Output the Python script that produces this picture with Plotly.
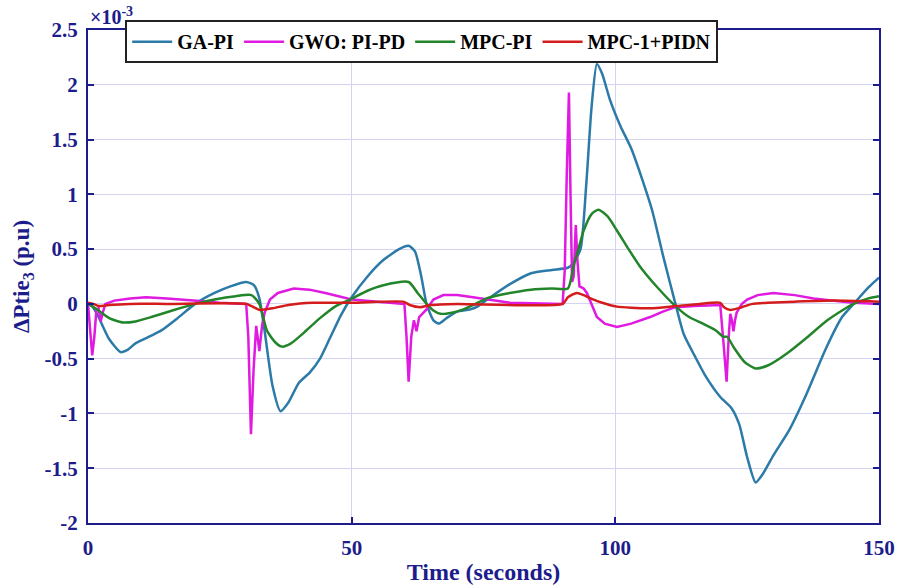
import plotly.graph_objects as go

# ---- data (values in units of 1e-3 p.u.) ----
ga_t = [0, 0.8, 2, 4, 6.2, 7.5, 9, 12, 14, 17, 20.3, 24, 27, 30, 31.5, 32.5, 33.5, 35, 36.5, 38, 40, 42, 44, 46, 48, 50,
        53, 56, 59, 60.8, 62, 63.2, 64.2, 65.5, 66.5, 68, 70, 72.5, 74, 76, 80, 84, 88, 91, 92, 93.4, 94.5, 95.5, 96.5,
        97.5, 99, 101, 103, 105, 107, 109, 111.4, 113, 115, 117, 119.9, 122, 123.5, 125, 126.6, 128, 130, 133, 136, 140,
        143, 145.2, 148, 150]
ga_v = [0, -0.02, -0.12, -0.32, -0.44, -0.42, -0.36, -0.29, -0.24, -0.13, 0, 0.1, 0.16, 0.2, 0.17, 0.05, -0.25, -0.75,
        -0.98, -0.9, -0.72, -0.63, -0.5, -0.3, -0.1, 0.06, 0.25, 0.4, 0.5, 0.53, 0.48, 0.25, 0.0, -0.15, -0.18, -0.13,
        -0.07, -0.05, -0.02, 0.05, 0.18, 0.28, 0.31, 0.33, 0.37, 0.5, 1.1, 1.8, 2.19, 2.1, 1.86, 1.62, 1.42, 1.15, 0.85,
        0.45, 0, -0.28, -0.47, -0.65, -0.85, -0.95, -1.1, -1.4, -1.63, -1.55, -1.38, -1.15, -0.85, -0.4, -0.12, 0.0,
        0.15, 0.24]

gwo_t = [0, 0.4, 0.8, 1.2, 1.6, 2.0, 2.4, 2.8, 3.3, 5, 8, 11, 15, 20, 25, 30, 30.4, 30.9, 31.4, 31.9, 32.5, 33, 33.5,
         34.5, 36, 39, 42, 45, 50, 55, 60, 60.4, 60.8, 61.3, 61.8, 62.3, 62.8, 64.2, 65.5, 67.4, 70, 73, 77, 80, 90,
         90.4, 90.8, 91.2, 91.5, 91.8, 92.1, 92.5, 92.8, 93.2, 93.6, 94.0, 94.6, 95.5, 96.5, 98, 100.3, 103, 106.6, 109,
         111.4, 115, 119.9, 120.5, 121.1, 121.5, 121.8, 122.1, 122.4, 122.7, 123, 124, 125, 127, 130, 134, 137.6, 141,
         145.2, 150]
gwo_v = [0, -0.2, -0.47, -0.3, -0.05, -0.04, -0.16, -0.08, 0.0, 0.03, 0.05, 0.06, 0.05, 0.03, 0.01, 0.0, -0.3, -1.19,
         -0.6, -0.2, -0.43, -0.2, -0.08, 0.04, 0.1, 0.14, 0.13, 0.1, 0.04, 0.02, 0.0, -0.3, -0.71, -0.3, -0.15, -0.25,
         -0.12, -0.05, 0.04, 0.08, 0.08, 0.06, 0.03, 0.01, 0.0, 0.3, 1.2, 1.93, 1.0, 0.2, 0.25, 0.72, 0.4, 0.16, 0.15,
         0.14, 0.1, 0.0, -0.12, -0.18, -0.21, -0.18, -0.12, -0.07, -0.03, -0.02, -0.01, -0.35, -0.71, -0.3, -0.09,
         -0.15, -0.25, -0.15, -0.08, 0.0, 0.04, 0.08, 0.1, 0.08, 0.05, 0.03, 0.01, 0.0]

mpc_t = [0, 2, 4, 6.7, 9, 12, 16, 20.3, 24, 28, 31, 32.5, 33.9, 35.5, 36.8, 38.5, 41, 44, 47, 49.7, 53, 56, 60.8, 62.5,
         64.2, 65.5, 66.8, 69, 71.2, 73.5, 75.6, 79, 84, 88, 91, 92.1, 93, 94, 95.5, 96.8, 98.5, 100.3, 102.5, 104.7,
         108, 111.4, 114, 116.6, 119, 120.5, 121.2, 122.5, 124.5, 126.6, 129, 132.6, 136, 140.2, 143, 145.2, 148, 150]
mpc_v = [0, -0.06, -0.13, -0.17, -0.16, -0.12, -0.06, 0, 0.04, 0.07, 0.08, 0.0, -0.24, -0.35, -0.39, -0.36, -0.26,
         -0.13, -0.02, 0.04, 0.12, 0.17, 0.2, 0.1, 0.0, -0.06, -0.09, -0.08, -0.05, 0.0, 0.05, 0.09, 0.13, 0.14, 0.14,
         0.35, 0.5, 0.67, 0.82, 0.86, 0.8, 0.67, 0.5, 0.34, 0.15, -0.02, -0.12, -0.18, -0.24, -0.3, -0.3, -0.4, -0.53,
         -0.59, -0.56, -0.45, -0.32, -0.15, -0.06, 0.0, 0.05, 0.07]

pidn_t = [0, 1, 2, 4, 8, 15, 30, 31, 32.6, 35, 38, 42.7, 50, 59.8, 61, 63, 65, 70, 90, 91, 92.7, 94, 95.3, 97.5, 100.3,
          103, 106.6, 111.4, 116, 119.9, 120.6, 121.8, 124, 126, 128.8, 134, 141.4, 150]
pidn_v = [0.01, 0.0, -0.02, -0.01, 0.0, 0.0, 0.0, -0.02, -0.055, -0.04, -0.01, 0.01, 0.01, 0.02, -0.01, -0.03, -0.01,
          0.0, 0.0, 0.06, 0.1, 0.08, 0.05, 0.01, -0.025, -0.035, -0.04, -0.02, 0.0, 0.01, -0.03, -0.055, -0.03, 0.0,
          0.01, 0.02, 0.03, 0.02]

x_ticks = [0, 50, 100, 150]
y_ticks = [-2, -1.5, -1, -0.5, 0, 0.5, 1, 1.5, 2, 2.5]
y_tick_labels = ["-2", "-1.5", "-1", "-0.5", "0", "0.5", "1", "1.5", "2", "2.5"]

NAVY = "#1c1c8c"
FONT = "Liberation Serif"

fig = go.Figure()
series = [
    ("GA-PI", ga_t, ga_v, "#2b7aa8", "spline"),
    ("GWO: PI-PD", gwo_t, gwo_v, "#e01ae0", "linear"),
    ("MPC-PI", mpc_t, mpc_v, "#23852a", "spline"),
    ("MPC-1+PIDN", pidn_t, pidn_v, "#d41c1c", "spline"),
]
for name, t, v, col, shape in series:
    line = dict(color=col, width=2.5, shape=shape)
    if shape == "spline":
        line["smoothing"] = 0.6
    fig.add_trace(go.Scatter(x=t, y=v, mode="lines", name=name, line=line))

axis_common = dict(
    showline=True, linecolor=NAVY, linewidth=2, mirror="ticks",
    ticks="inside", ticklen=6, tickwidth=2, tickcolor=NAVY,
    showgrid=True, gridcolor="#d4d4f2", gridwidth=1, zeroline=False,
    automargin=False,
    tickfont=dict(family=FONT, size=21, color=NAVY, weight="bold"),
)

fig.update_layout(
    width=897, height=588,
    margin=dict(l=88, r=18, t=30, b=65),
    plot_bgcolor="white", paper_bgcolor="white",
    font=dict(family=FONT, color=NAVY),
    xaxis=dict(range=[0, 150], tickvals=x_ticks, ticklabelstandoff=5, **axis_common,
               title=dict(text="Time (seconds)", standoff=4,
                          font=dict(family=FONT, size=24, color=NAVY, weight="bold"))),
    yaxis=dict(range=[-2, 2.5], tickvals=y_ticks, ticktext=y_tick_labels, ticklabelstandoff=4, **axis_common,
               title=dict(text="ΔPtie<sub>3</sub> (p.u)", standoff=8,
                          font=dict(family=FONT, size=23, color=NAVY, weight="bold"))),
    legend=dict(orientation="h", x=0.047, y=1.02, xanchor="left", yanchor="top",
                bgcolor="white", bordercolor="#222222", borderwidth=2,
                font=dict(family=FONT, size=20, color="black", weight="bold"),
                itemwidth=40, tracegroupgap=0),
    showlegend=True,
)

fig.add_annotation(x=0, y=1, xref="paper", yref="paper", xanchor="left", yanchor="bottom",
                   text="×10<sup>-3</sup>", showarrow=False, yshift=0,
                   font=dict(family=FONT, size=20, color=NAVY, weight="bold"))

# remove the page's default body margin so the figure fills the window exactly
fig.write_html("out.html", config={"displayModeBar": False},
               post_script="document.body.style.margin='0';document.body.style.overflow='hidden';")
